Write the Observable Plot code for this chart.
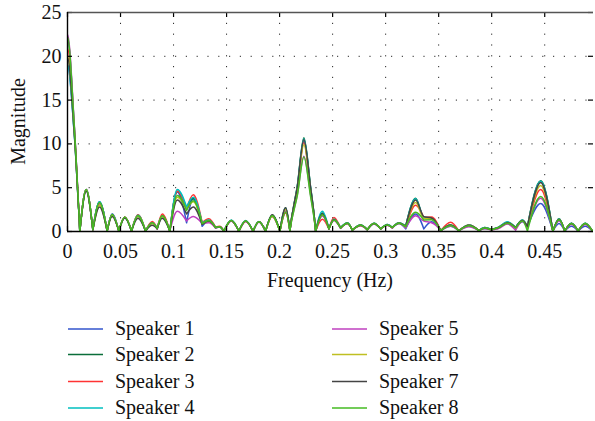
<!DOCTYPE html>
<html>
<head>
<meta charset="utf-8">
<script src="https://cdn.jsdelivr.net/npm/d3@7"></script>
<script src="https://cdn.jsdelivr.net/npm/@observablehq/plot@0.6"></script>
<style>
  html, body { margin: 0; padding: 0; background: #fff; }
  #chart, #legend { width: 595px; display: block; }
  svg { display: block; }
</style>
</head>
<body>
<div id="chart"></div>
<div id="legend"></div>
<script>
// ---- data ----
const speakers = ["Speaker 1", "Speaker 2", "Speaker 3", "Speaker 4", "Speaker 5", "Speaker 6", "Speaker 7", "Speaker 8"];
const colors = ["#3355cc", "#0b6e3a", "#ff3333", "#00bfbf", "#bf40bf", "#bfbf22", "#444444", "#44bb22"];

const xTicks = [0, 0.05, 0.1, 0.15, 0.2, 0.25, 0.3, 0.35, 0.4, 0.45];
const xTickLabels = ["0", "0.05", "0.1", "0.15", "0.2", "0.25", "0.3", "0.35", "0.4", "0.45"];
const yTicks = [0, 5, 10, 15, 20, 25];
const xDomain = [0, 0.496];
const yDomain = [0, 25];

const freq = [
  0, 0.0066, 0.0101, 0.0116, 0.0176, 0.0239, 0.0302, 0.0374, 0.0421, 0.0484,
  0.054, 0.0604, 0.0664, 0.0736, 0.0799, 0.0846, 0.0893, 0.0965, 0.1035, 0.1123,
  0.1186, 0.127, 0.1333, 0.1396, 0.1435, 0.1475, 0.1544, 0.1616, 0.168, 0.175,
  0.1805, 0.1868, 0.193, 0.2003, 0.2057, 0.2097, 0.2167, 0.2229, 0.2292, 0.234,
  0.2403, 0.2465, 0.2513, 0.2575, 0.264, 0.2686, 0.2764, 0.2827, 0.289, 0.2953,
  0.3016, 0.3063, 0.3126, 0.3189, 0.3283, 0.336, 0.3433, 0.352, 0.3613, 0.369,
  0.3786, 0.388, 0.3934, 0.4, 0.4065, 0.4148, 0.4226, 0.429, 0.4337, 0.4462,
  0.4577, 0.4635, 0.4689, 0.4752, 0.4815, 0.4882, 0.495
];

const speaker1 = [
  19.0, 10.8, 3.4, 0, 4.7, 0.2, 3.4, 0.05, 2.0, 0.05,
  1.6, 0.05, 1.8, 0.05, 1.0, 0.3, 1.8, 0.05, 4.5, 1.0,
  3.7, 0.6, 1.2, 0.4, 0.5, 0.03, 1.2, 0.03, 1.2, 0.03,
  1.1, 0.03, 1.8, 0.03, 2.5, 0.1, 4.9, 10.3, 4.8, 0.05,
  1.8, 0.3, 1.3, 0.4, 0.9, 0.15, 0.7, 0.2, 0.85, 0.3,
  0.7, 0.4, 0.9, 0.3, 2.0, 0.3, 1.1, 0.1, 0.6, 0.08,
  0.6, 0.1, 0.35, 0.2, 0.4, 0.9, 0.35, 1.1, 0.5, 3.2,
  0.03, 0.9, 0.05, 0.6, 0.05, 0.6, 0.05
];
const speaker2 = [
  22.0, 11.6, 3.6, 0, 4.8, 0.2, 3.3, 0.05, 1.95, 0.05,
  1.65, 0.05, 1.85, 0.05, 1.0, 0.35, 1.8, 0.05, 4.6, 2.6,
  3.8, 0.9, 1.25, 0.45, 0.55, 0.03, 1.25, 0.03, 1.2, 0.03,
  1.1, 0.03, 1.85, 0.03, 2.7, 0.1, 5.2, 10.7, 5.1, 0.05,
  2.1, 0.3, 1.4, 0.4, 1.0, 0.15, 0.75, 0.2, 0.95, 0.3,
  0.8, 0.45, 1.0, 0.6, 3.8, 1.6, 1.5, 0.1, 0.75, 0.08,
  0.75, 0.1, 0.45, 0.2, 0.5, 1.05, 0.45, 1.3, 0.55, 5.8,
  0.03, 1.45, 0.05, 0.95, 0.05, 0.95, 0.05
];
const speaker3 = [
  20.9, 11.2, 3.5, 0, 4.8, 0.2, 3.3, 0.05, 1.9, 0.05,
  1.65, 0.05, 1.9, 0.05, 1.15, 0.35, 2.0, 0.05, 4.6, 2.6,
  4.2, 1.0, 1.45, 0.5, 0.6, 0.03, 1.2, 0.03, 1.15, 0.03,
  1.1, 0.03, 1.7, 0.03, 2.1, 0.1, 4.8, 10.2, 4.7, 0.05,
  1.4, 0.3, 1.6, 0.4, 0.9, 0.15, 0.65, 0.2, 0.9, 0.3,
  0.7, 0.4, 1.0, 0.5, 3.0, 1.6, 1.65, 0.1, 1.05, 0.08,
  0.7, 0.1, 0.4, 0.2, 0.4, 0.95, 0.4, 1.2, 0.5, 4.8,
  0.03, 1.35, 0.05, 0.9, 0.05, 0.85, 0.05
];
const speaker4 = [
  19.0, 10.7, 3.4, 0, 4.8, 0.2, 3.4, 0.05, 1.95, 0.05,
  1.6, 0.05, 1.85, 0.05, 1.0, 0.35, 1.75, 0.05, 4.8, 2.8,
  3.9, 0.95, 1.3, 0.45, 0.55, 0.03, 1.3, 0.03, 1.25, 0.03,
  1.15, 0.03, 1.8, 0.03, 2.6, 0.1, 5.1, 10.6, 5.0, 0.05,
  2.3, 0.35, 1.4, 0.45, 1.0, 0.15, 0.75, 0.2, 0.95, 0.3,
  0.8, 0.45, 1.0, 0.6, 3.75, 1.6, 1.5, 0.1, 0.7, 0.08,
  0.75, 0.1, 0.45, 0.2, 0.5, 1.1, 0.45, 1.3, 0.55, 5.75,
  0.03, 1.45, 0.05, 0.95, 0.05, 0.95, 0.05
];
const speaker5 = [
  22.5, 11.8, 3.7, 0, 4.8, 0.2, 3.1, 0.05, 1.9, 0.05,
  1.6, 0.05, 1.75, 0.05, 0.95, 0.3, 1.7, 0.05, 2.3, 1.2,
  1.7, 0.9, 1.0, 0.4, 0.5, 0.03, 1.2, 0.03, 1.15, 0.03,
  1.05, 0.03, 1.7, 0.03, 2.3, 0.1, 4.2, 8.6, 4.2, 0.05,
  1.8, 0.3, 1.25, 0.35, 0.9, 0.15, 0.65, 0.2, 0.85, 0.3,
  0.7, 0.4, 0.9, 0.4, 1.8, 1.2, 1.0, 0.1, 0.6, 0.08,
  0.55, 0.1, 0.3, 0.15, 0.35, 0.85, 0.15, 1.15, 0.45, 3.8,
  0.03, 1.2, 0.05, 0.8, 0.05, 0.8, 0.05
];
const speaker6 = [
  20.0, 11.0, 3.5, 0, 4.7, 0.2, 3.0, 0.05, 1.85, 0.05,
  1.6, 0.05, 1.75, 0.05, 0.9, 0.3, 1.7, 0.05, 3.9, 2.5,
  3.4, 0.85, 1.2, 0.45, 0.55, 0.03, 1.25, 0.03, 1.2, 0.03,
  1.1, 0.03, 1.75, 0.03, 2.5, 0.1, 4.9, 9.9, 4.8, 0.05,
  1.9, 0.3, 1.3, 0.4, 0.95, 0.15, 0.7, 0.2, 0.9, 0.3,
  0.75, 0.45, 0.95, 0.55, 3.3, 1.5, 1.45, 0.1, 0.7, 0.08,
  0.7, 0.1, 0.4, 0.2, 0.45, 1.0, 0.4, 1.25, 0.5, 5.25,
  0.03, 1.4, 0.05, 0.9, 0.05, 0.9, 0.05
];
const speaker7 = [
  19.8, 10.9, 3.4, 0, 4.6, 0.2, 2.8, 0.05, 1.7, 0.05,
  1.55, 0.05, 1.5, 0.05, 0.7, 0.3, 1.5, 0.05, 3.6, 2.0,
  2.8, 0.8, 1.2, 0.45, 0.55, 0.03, 1.25, 0.03, 1.2, 0.03,
  1.1, 0.03, 1.9, 0.03, 2.7, 0.1, 5.1, 10.5, 5.0, 0.05,
  2.0, 0.3, 1.35, 0.4, 0.95, 0.15, 0.7, 0.2, 0.9, 0.3,
  0.75, 0.45, 0.95, 0.6, 3.6, 1.7, 1.55, 0.1, 0.75, 0.08,
  0.7, 0.1, 0.4, 0.2, 0.45, 1.0, 0.45, 1.25, 0.55, 5.6,
  0.03, 1.4, 0.05, 0.9, 0.05, 0.9, 0.05
];
const speaker8 = [
  22.2, 11.6, 3.6, 0, 4.8, 0.2, 3.3, 0.05, 1.95, 0.05,
  1.65, 0.05, 1.8, 0.05, 1.0, 0.35, 1.8, 0.05, 4.1, 2.4,
  3.5, 0.9, 1.25, 0.45, 0.55, 0.03, 1.25, 0.03, 1.2, 0.03,
  1.1, 0.03, 1.8, 0.03, 2.2, 0.1, 4.1, 8.5, 4.0, 0.05,
  1.9, 0.3, 1.3, 0.4, 0.95, 0.15, 0.7, 0.2, 0.9, 0.3,
  0.75, 0.45, 0.95, 0.55, 2.2, 1.3, 1.35, 0.1, 0.65, 0.08,
  0.65, 0.1, 0.4, 0.2, 0.45, 0.95, 0.4, 1.2, 0.05, 4.0,
  0.03, 1.35, 0.05, 0.9, 0.05, 0.9, 0.05
];

const series = [speaker1, speaker2, speaker3, speaker4, speaker5, speaker6, speaker7, speaker8];

// long table built from the arrays
const table = [];
series.forEach((vals, si) => {
  freq.forEach((f, i) => table.push({ f, m: vals[i], s: speakers[si] }));
});

// ---- curve style: rounded lobe tops, sharp nulls (like a magnitude spectrum) ----
function lobeCurve(context) {
  let pts = [];
  return {
    areaStart() {}, areaEnd() {},
    lineStart() { pts = []; },
    point(x, y) { pts.push([+x, +y]); },
    lineEnd() {
      const n = pts.length;
      if (!n) return;
      context.moveTo(pts[0][0], pts[0][1]);
      if (n === 1) return;
      const tl = new Array(n), tr = new Array(n);
      for (let i = 0; i < n; i++) {
        const p = pts[i], a = pts[i - 1], b = pts[i + 1];
        const sa = a ? (p[1] - a[1]) / (p[0] - a[0]) : null;
        const sb = b ? (b[1] - p[1]) / (b[0] - p[0]) : null;
        if (sa === null) {            // first point
          tl[i] = tr[i] = sb > 0 ? 0 : sb * 1.5;
        } else if (sb === null) {     // last point
          tl[i] = tr[i] = sa < 0 ? 0 : sa * 1.5;
        } else if (sa < 0 && sb > 0) { // screen minimum = lobe top: round
          tl[i] = tr[i] = 0;
        } else if (sa > 0 && sb < 0) { // screen maximum = null: sharp corner
          tl[i] = sa * 1.5; tr[i] = sb * 1.5;
        } else if (sa === 0 || sb === 0) {
          tl[i] = tr[i] = 0;
        } else {                       // monotone pass-through
          const m = 2 / (1 / sa + 1 / sb);
          tl[i] = tr[i] = m;
        }
      }
      for (let i = 0; i < n - 1; i++) {
        const [x0, y0] = pts[i], [x1, y1] = pts[i + 1];
        const dx = (x1 - x0) / 3;
        context.bezierCurveTo(x0 + dx, y0 + tr[i] * dx, x1 - dx, y1 - tl[i + 1] * dx, x1, y1);
      }
    }
  };
}

// ---- chart ----
const W = 595, H = 300, mT = 12, mB = 69, mL = 67, mR = 2;
const frameW = W - mL - mR, frameH = H - mT - mB;
const tick = 5;
const FONT = "Liberation Serif, serif";
const grid = { stroke: "#000", strokeOpacity: 0.85, strokeWidth: 1, strokeDasharray: "1.2,9.6" };

const chart = Plot.plot({
  width: W, height: H,
  marginTop: mT, marginBottom: mB, marginLeft: mL, marginRight: mR,
  style: { fontFamily: FONT, fontSize: "20px", color: "#111", background: "#fff", overflow: "visible" },
  x: { domain: xDomain, axis: null },
  y: { domain: yDomain, axis: null },
  color: { domain: speakers, range: colors },
  marks: [
    Plot.gridX(xTicks.slice(1), grid),
    Plot.gridY(yTicks.slice(1, -1), grid),
    Plot.line(table, { x: "f", y: "m", z: "s", stroke: "s", strokeWidth: 1.5, curve: lobeCurve, clip: true }),
    Plot.tickX(xTicks, { x: d => d, insetTop: frameH - tick, stroke: "#000", strokeWidth: 1.2 }),
    Plot.tickX(xTicks, { x: d => d, insetBottom: frameH - tick, stroke: "#000", strokeWidth: 1.2 }),
    Plot.tickY(yTicks, { y: d => d, insetRight: frameW - tick, stroke: "#000", strokeWidth: 1.2 }),
    Plot.tickY(yTicks, { y: d => d, insetLeft: frameW - tick, stroke: "#000", strokeWidth: 1.2 }),
    Plot.ruleY([yDomain[1]], { stroke: "#555", strokeWidth: 1.6 }),
    Plot.ruleY([yDomain[0]], { stroke: "#000", strokeWidth: 1.4 }),
    Plot.ruleX([xDomain[0]], { stroke: "#000", strokeWidth: 1.4 }),
    Plot.axisX(xTicks, { tickSize: 0, tickPadding: 12, tickFormat: (d, i) => xTickLabels[i], label: null }),
    Plot.axisY(yTicks, { tickSize: 0, tickPadding: 6, label: null })
  ]
});

const svg = d3.select(chart);
svg.append("text")
  .attr("x", mL + frameW / 2).attr("y", 287)
  .attr("text-anchor", "middle")
  .attr("fill", "#111")
  .text("Frequency (Hz)");
svg.append("text")
  .attr("transform", `translate(25,${mT + frameH / 2}) rotate(-90)`)
  .attr("text-anchor", "middle")
  .attr("fill", "#111")
  .text("Magnitude");

document.getElementById("chart").appendChild(chart);

// ---- legend (below the plot) ----
const rowY = [29, 54.5, 81.5, 108];
const lg = d3.select("#legend").append("svg")
  .attr("width", W).attr("height", 121)
  .style("font-family", FONT).style("font-size", "20px");
speakers.forEach((name, i) => {
  const col = Math.floor(i / 4), row = i % 4;
  const lx = col === 0 ? 68 : 332;
  const tx = col === 0 ? 115 : 379;
  lg.append("line")
    .attr("x1", lx).attr("x2", lx + 35)
    .attr("y1", rowY[row]).attr("y2", rowY[row])
    .attr("stroke", colors[i]).attr("stroke-width", 1.5);
  lg.append("text")
    .attr("x", tx).attr("y", rowY[row] + 6)
    .attr("fill", "#111")
    .text(name);
});
</script>
</body>
</html>
